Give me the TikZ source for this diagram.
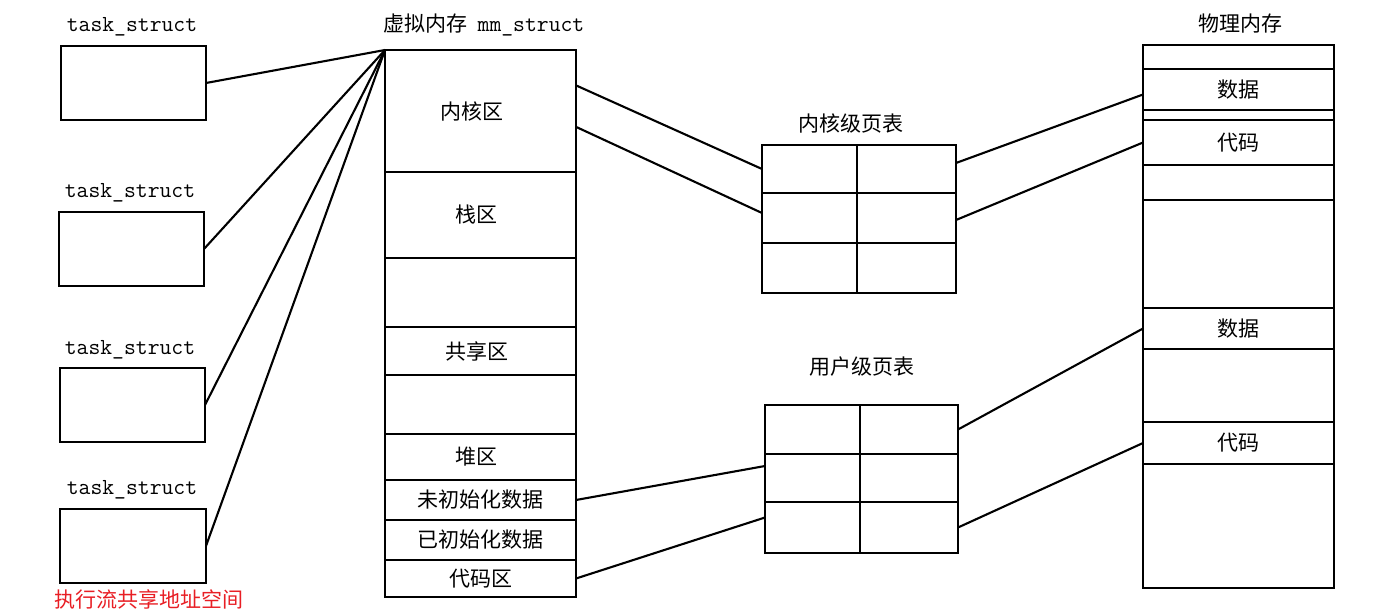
\documentclass[tikz,border=0pt]{standalone}
\usepackage{fontspec}
\newfontfamily\cjk{Noto Sans CJK SC}
\usetikzlibrary{calc}
\definecolor{redtxt}{RGB}{232,30,36}
\tikzset{
  box/.style={draw, line width=2.1pt, inner sep=0pt, outer sep=0pt, anchor=north west, font=\cjk\fontsize{21}{21}\selectfont},
  lbl/.style={inner sep=0pt, font=\cjk\fontsize{21}{21}\selectfont},
  tt/.style={inner sep=0pt, font=\ttfamily\fontsize{23}{23}\selectfont},
  wire/.style={line width=2.1pt},
}
\begin{document}
\begin{tikzpicture}[x=1pt,y=-1pt]
\useasboundingbox (0,0) rectangle (1374,610);
% task structs
\node[tt] (t1l) at (132,27) {task\_struct};
\node[tt] (t2l) at (130,193) {task\_struct};
\node[tt] (t3l) at (130,350) {task\_struct};
\node[tt] (t4l) at (132,490) {task\_struct};
\node[box, minimum width=145pt, minimum height=74pt] (t1) at (61,46) {};
\node[box, minimum width=145pt, minimum height=74pt] (t2) at (59,212) {};
\node[box, minimum width=145pt, minimum height=74pt] (t3) at (60,368) {};
\node[box, minimum width=146pt, minimum height=74pt] (t4) at (60,509) {};
\node[lbl, text=redtxt] (note) at (149,599) {执行流共享地址空间};
% virtual memory
\node[inner sep=0pt] (mmt) at (484,25) {\cjk\fontsize{21}{21}\selectfont 虚拟内存\hspace{10pt}\ttfamily\fontsize{23}{23}\selectfont mm\_struct};
\node[box, minimum width=191pt, minimum height=122pt] (kr) at (385,50) {\hspace*{-18pt}内核区};
\node[box, minimum width=191pt, minimum height=86pt] (st) at (385,172) {\hspace*{-8pt}栈区};
\node[box, minimum width=191pt, minimum height=69pt] (b1) at (385,258) {};
\node[box, minimum width=191pt, minimum height=48pt] (sh) at (385,327) {\hspace*{-8pt}共享区};
\node[box, minimum width=191pt, minimum height=59pt] (b2) at (385,375) {};
\node[box, minimum width=191pt, minimum height=46pt] (hp) at (385,434) {\hspace*{-8pt}堆区};
\node[box, minimum width=191pt, minimum height=40pt] (bss) at (385,480) {未初始化数据};
\node[box, minimum width=191pt, minimum height=40pt] (dat) at (385,520) {已初始化数据};
\node[box, minimum width=191pt, minimum height=37pt] (code) at (385,560) {代码区};
% kernel page table
\node[lbl] (ktl) at (851,124) {内核级页表};
\node[box, minimum width=95pt, minimum height=48pt] (k11) at (762,145) {};
\node[box, minimum width=99pt, minimum height=48pt] (k12) at (857,145) {};
\node[box, minimum width=95pt, minimum height=50pt] (k21) at (762,193) {};
\node[box, minimum width=99pt, minimum height=50pt] (k22) at (857,193) {};
\node[box, minimum width=95pt, minimum height=50pt] (k31) at (762,243) {};
\node[box, minimum width=99pt, minimum height=50pt] (k32) at (857,243) {};
% user page table
\node[lbl] (utl) at (862,367) {用户级页表};
\node[box, minimum width=95pt, minimum height=49pt] (u11) at (765,405) {};
\node[box, minimum width=98pt, minimum height=49pt] (u12) at (860,405) {};
\node[box, minimum width=95pt, minimum height=48pt] (u21) at (765,454) {};
\node[box, minimum width=98pt, minimum height=48pt] (u22) at (860,454) {};
\node[box, minimum width=95pt, minimum height=51pt] (u31) at (765,502) {};
\node[box, minimum width=98pt, minimum height=51pt] (u32) at (860,502) {};
% physical memory
\node[lbl] (pml) at (1240,24) {物理内存};
\node[box, minimum width=191pt, minimum height=24pt] (p1) at (1143,45) {};
\node[box, minimum width=191pt, minimum height=41pt] (p2) at (1143,69) {数据};
\node[box, minimum width=191pt, minimum height=10pt] (p3) at (1143,110) {};
\node[box, minimum width=191pt, minimum height=45pt] (p4) at (1143,120) {代码};
\node[box, minimum width=191pt, minimum height=35pt] (p5) at (1143,165) {};
\node[box, minimum width=191pt, minimum height=108pt] (p6) at (1143,200) {};
\node[box, minimum width=191pt, minimum height=41pt] (p7) at (1143,308) {数据};
\node[box, minimum width=191pt, minimum height=73pt] (p8) at (1143,349) {};
\node[box, minimum width=191pt, minimum height=42pt] (p9) at (1143,422) {代码};
\node[box, minimum width=191pt, minimum height=124pt] (p10) at (1143,464) {};
% connectors
\draw[wire] (t1.east) -- (kr.north west);
\draw[wire] (t2.east) -- (kr.north west);
\draw[wire] (t3.east) -- (kr.north west);
\draw[wire] (t4.east) -- (kr.north west);
\draw[wire] ($(kr.north east)!0.29!(kr.south east)$) -- (k11.west);
\draw[wire] ($(kr.north east)!0.63!(kr.south east)$) -- ([yshift=5pt]k21.west);
\draw[wire] ([yshift=6pt]k12.east) -- ([yshift=-5pt]p2.west);
\draw[wire] ([yshift=-2pt]k22.east) -- (p4.west);
\draw[wire] (bss.east) -- ([yshift=12pt]u21.west);
\draw[wire] (code.east) -- ([yshift=10pt]u31.west);
\draw[wire] (u12.east) -- (p7.west);
\draw[wire] (u32.east) -- (p9.west);
\end{tikzpicture}
\end{document}
